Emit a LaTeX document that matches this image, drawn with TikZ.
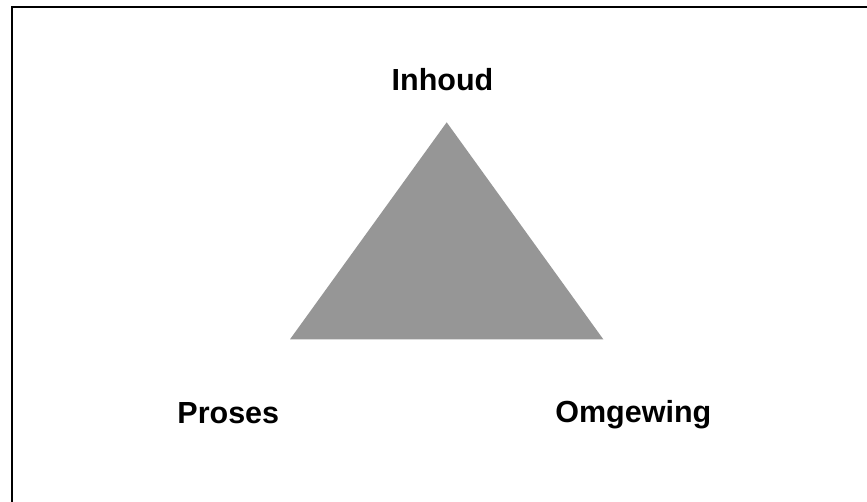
\documentclass[tikz,border=0pt]{standalone}
\usepackage{fontspec}
\setmainfont{Liberation Sans}
\definecolor{trigray}{HTML}{969696}
\begin{document}
\begin{tikzpicture}[x=1pt,y=-1pt,
  lbl/.style={font=\bfseries\fontsize{30.5}{36}\selectfont, anchor=base, inner sep=0pt}]
\useasboundingbox (0,0) rectangle (867,501);
\coordinate (tl) at (12,7);
\coordinate (tr) at (867,7);
\coordinate (bl) at (12,501);
\draw[line width=2.2pt, line cap=rect] (tr) -- (tl) -- (bl);
\coordinate (apex) at (446.7,122.3);
\coordinate (left) at (290,339.3);
\coordinate (right) at (603.3,339.3);
\fill[trigray] (apex) -- (right) -- (left) -- cycle;
\node[lbl] (inhoud) at (442.5,90.5) {Inhoud};
\node[lbl] (proses) at (228.3,423) {Proses};
\node[lbl] (omgewing) at (633.3,422.5) {Omgewing};
\end{tikzpicture}
\end{document}
